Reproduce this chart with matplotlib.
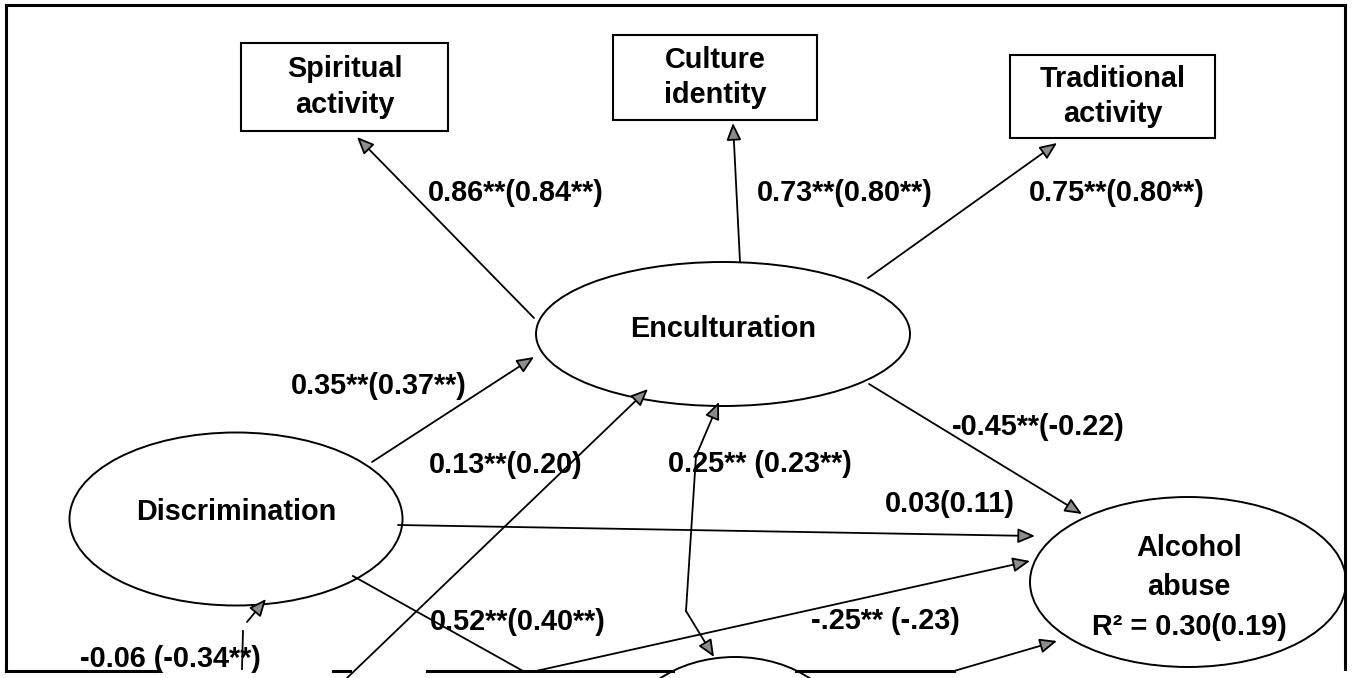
import matplotlib
matplotlib.use("Agg")
import matplotlib.pyplot as plt
from matplotlib.patches import Ellipse, Rectangle, FancyArrowPatch

# path diagram: node texts and path coefficients (standardized, in brackets second group)
box_labels = ["Spiritual\nactivity", "Culture\nidentity", "Traditional\nactivity"]
latent_labels = ["Enculturation", "Discrimination"]
outcome_lines = ["Alcohol", "abuse", "R\u00b2 = 0.30(0.19)"]
loading_labels = ["0.86**(0.84**)", "0.73**(0.80**)", "0.75**(0.80**)"]
path_labels = ["0.35**(0.37**)", "0.13**(0.20)", "0.25** (0.23**)", "-0.45**(-0.22)",
               "0.03(0.11)", "0.52**(0.40**)", "-.25** (-.23)", "-0.06 (-0.34**)"]

# layout in pixel coordinates of the 1353x678 canvas
box_xywh = [(241, 43, 207, 88), (613, 35, 204, 85), (1010, 55, 205, 83)]
latent_ell = [(723, 334, 374, 144), (236, 519, 333, 173)]
outcome_ell = (1188, 582, 316, 170)
bottom_ell = (735, 737, 220, 160)
loading_pos = [(516, 193), (845, 193), (1117, 193)]
path_pos = [(379, 386), (506, 465), (760, 464), (1038, 427),
            (950, 504), (518, 622), (885, 621), (170, 659)]

arrows = [  # (start, tip)
    ((534, 318), (357, 137)),
    ((740, 262), (733, 123)),
    ((868, 278), (1057, 143)),
    ((372, 462), (534, 357)),
    ((347, 678), (648, 389)),
    ((696, 456), (719, 402)),
    ((686, 611), (714, 657)),
    ((869, 384), (1082, 514)),
    ((398, 525), (1035, 536)),
    ((536, 671), (1030, 561)),
    ((954, 671), (1057, 641)),
    ((247, 622), (266, 599)),
]
plain_lines = [
    ([696, 686], [456, 611]),
    ([353, 523], [576, 671]),
    ([242, 243], [669, 631]),
]
bottom_segments = [(6, 157), (333, 350), (427, 673), (796, 954)]

FONT = ["Liberation Sans", "DejaVu Sans"]
FS = 20.8

fig = plt.figure(figsize=(13.53, 6.78), dpi=100)
ax = fig.add_axes([0, 0, 1, 1])
ax.set_xlim(0, 1353)
ax.set_ylim(678, 0)
ax.axis("off")

# outer frame (cropped at the bottom)
ax.plot([6, 1345], [5, 5], color="black", lw=2.2)
ax.plot([6, 6], [5, 671], color="black", lw=2.2)
ax.plot([1345, 1345], [5, 669], color="black", lw=2.2)
for x0, x1 in bottom_segments:
    ax.plot([x0, x1], [671, 671], color="black", lw=2.2)

for (x, y, w, h), lab in zip(box_xywh, box_labels):
    ax.add_patch(Rectangle((x, y), w, h, fill=False, ec="black", lw=1.5))
    ax.text(x + w / 2, y + h / 2, lab, ha="center", va="center", fontsize=FS,
            fontweight="bold", family=FONT, linespacing=1.35)

for (cx, cy, w, h), lab in zip(latent_ell, latent_labels):
    ax.add_patch(Ellipse((cx, cy), w, h, fill=False, ec="black", lw=1.4))
    ax.text(cx, cy - 5 if lab == "Enculturation" else cy - 7, lab, ha="center", va="center",
            fontsize=FS, fontweight="bold", family=FONT)

cx, cy, w, h = outcome_ell
ax.add_patch(Ellipse((cx, cy), w, h, fill=False, ec="black", lw=1.4))
for yy, line in zip([548, 587, 627], outcome_lines):
    ax.text(cx + 1, yy, line, ha="center", va="center", fontsize=FS,
            fontweight="bold", family=FONT)

cx, cy, w, h = bottom_ell
ax.add_patch(Ellipse((cx, cy), w, h, fill=False, ec="black", lw=1.4))

for xs, ys in plain_lines:
    ax.plot(xs, ys, color="black", lw=1.3)

for start, tip in arrows:
    ax.add_patch(FancyArrowPatch(start, tip, arrowstyle="-|>,head_length=6.5,head_width=2.8",
                                 mutation_scale=1.6, lw=1.3, ec="black", fc="#8c8c8c",
                                 shrinkA=0, shrinkB=0))

for (x, y), lab in zip(loading_pos, loading_labels):
    ax.text(x, y, lab, ha="center", va="center", fontsize=FS, fontweight="bold", family=FONT)
for (x, y), lab in zip(path_pos, path_labels):
    ax.text(x, y, lab, ha="center", va="center", fontsize=FS, fontweight="bold", family=FONT)

fig.savefig("out.png", dpi=100, facecolor="white")
